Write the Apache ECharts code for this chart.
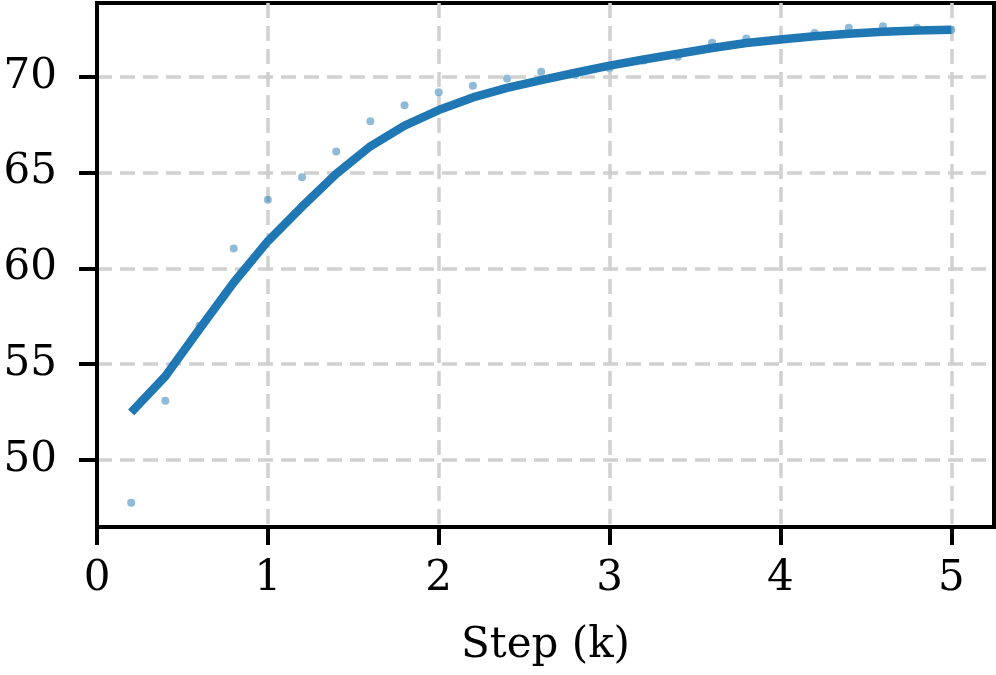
<!DOCTYPE html>
<html>
<head>
<meta charset="utf-8">
<script src="https://cdn.jsdelivr.net/npm/echarts@6/dist/echarts.min.js"></script>
<style>html,body{margin:0;padding:0;background:#fff}#c{width:996px;height:675px}</style>
</head>
<body>
<div id="c"></div>
<script>
const steps = [0.2,0.4,0.6,0.8,1.0,1.2,1.4,1.6,1.8,2.0,2.2,2.4,2.6,2.8,3.0,3.2,3.4,3.6,3.8,4.0,4.2,4.4,4.6,4.8,5.0];
const rawValues = [47.77,53.09,57.01,61.04,63.58,64.75,66.10,67.68,68.51,69.19,69.53,69.91,70.26,70.09,70.44,70.85,71.04,71.77,72.00,71.95,72.28,72.56,72.63,72.56,72.45];
const smoothValues = [52.48,54.37,56.83,59.26,61.42,63.22,64.93,66.37,67.45,68.26,68.92,69.42,69.83,70.21,70.58,70.90,71.20,71.50,71.76,71.95,72.12,72.25,72.35,72.42,72.46];
const xTicks = [0,1,2,3,4,5];
const yTicks = [50,55,60,65,70];

const FONT = 'DejaVu Serif';
const chart = echarts.init(document.getElementById('c'), null, {renderer:'canvas'});
const gridLine = {show:true, lineStyle:{color:'#d0d0d0', width:3.5, type:[15,8]}};
chart.setOption({
  animation:false,
  grid:{left:97, right:2, top:3, bottom:148, show:true, borderColor:'#000', borderWidth:4, backgroundColor:'transparent'},
  xAxis:{
    type:'value', min:0, max:5.25,
    name:'Step (k)', nameLocation:'middle', nameGap:98,
    nameTextStyle:{fontFamily:FONT, fontSize:42, color:'#000'},
    axisLine:{show:true, onZero:false, lineStyle:{color:'#000', width:4}},
    axisTick:{show:true, length:18, customValues:xTicks, lineStyle:{color:'#000', width:4}},
    axisLabel:{customValues:xTicks, fontFamily:FONT, fontSize:42, color:'#000', margin:31},
    splitLine:gridLine
  },
  yAxis:{
    type:'value', min:46.5, max:73.85,
    axisLine:{show:true, onZero:false, lineStyle:{color:'#000', width:4}},
    axisTick:{show:true, length:18, customValues:yTicks, lineStyle:{color:'#000', width:4}},
    axisLabel:{customValues:yTicks, fontFamily:FONT, fontSize:42, color:'#000', margin:40},
    splitLine:gridLine
  },
  series:[
    {type:'scatter', data:steps.map((s,i)=>[s,rawValues[i]]), symbolSize:8,
     itemStyle:{color:'#1f77b4', opacity:0.5}, z:2},
    {type:'line', data:steps.map((s,i)=>[s,smoothValues[i]]), showSymbol:false, symbol:'none',
     lineStyle:{color:'#1f77b4', width:8.5, cap:'butt', join:'round'}, z:3}
  ]
});
</script>
</body>
</html>
